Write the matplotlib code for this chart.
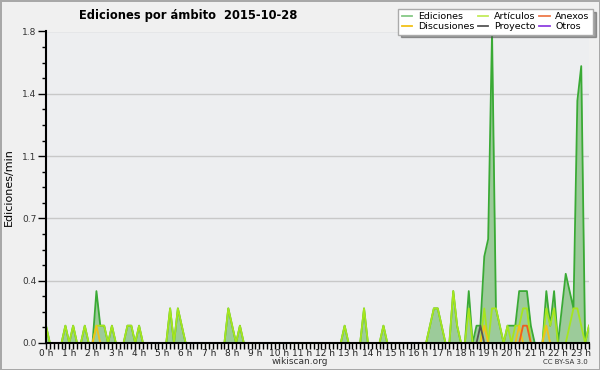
import numpy as np
import matplotlib
matplotlib.use("Agg")
import matplotlib.pyplot as plt
from matplotlib.ticker import MultipleLocator

# edits per minute, one value per 10-minute slot (0:00 .. 23:20)
ediciones = [
    0.1, 0, 0, 0, 0, 0.1, 0, 0.1, 0, 0,        # 0-9
    0.1, 0, 0, 0.3, 0.1, 0.1, 0, 0.1, 0, 0,    # 10-19
    0, 0.1, 0.1, 0, 0.1, 0, 0, 0, 0, 0,        # 20-29
    0, 0, 0.2, 0, 0.2, 0.1, 0, 0, 0, 0,        # 30-39
    0, 0, 0, 0, 0, 0, 0, 0.2, 0.1, 0,          # 40-49
    0.1, 0, 0, 0, 0, 0, 0, 0, 0, 0,            # 50-59
    0, 0, 0, 0, 0, 0, 0, 0, 0, 0,              # 60-69
    0, 0, 0, 0, 0, 0, 0, 0.1, 0, 0,            # 70-79
    0, 0, 0.2, 0, 0, 0, 0, 0.1, 0, 0,          # 80-89
    0, 0, 0, 0, 0, 0, 0, 0, 0, 0.1,            # 90-99
    0.2, 0.2, 0.1, 0, 0, 0.3, 0.1, 0, 0, 0.3,  # 100-109
    0, 0.1, 0.1, 0.5, 0.6, 1.8, 0.2, 0.1, 0, 0.1,  # 110-119
    0.1, 0.1, 0.3, 0.3, 0.3, 0.1, 0, 0, 0, 0.3,    # 120-129
    0.1, 0.3, 0, 0.2, 0.4, 0.3, 0.2, 1.4, 1.6, 0,  # 130-139
    0.1,                                           # 140
]
articulos = [
    0.1, 0, 0, 0, 0, 0.1, 0, 0.1, 0, 0,
    0.1, 0, 0, 0.1, 0.1, 0.1, 0, 0.1, 0, 0,
    0, 0.1, 0.1, 0, 0.1, 0, 0, 0, 0, 0,
    0, 0, 0.2, 0, 0.2, 0.1, 0, 0, 0, 0,
    0, 0, 0, 0, 0, 0, 0, 0.2, 0.1, 0,
    0.1, 0, 0, 0, 0, 0, 0, 0, 0, 0,
    0, 0, 0, 0, 0, 0, 0, 0, 0, 0,
    0, 0, 0, 0, 0, 0, 0, 0.1, 0, 0,
    0, 0, 0.2, 0, 0, 0, 0, 0.1, 0, 0,
    0, 0, 0, 0, 0, 0, 0, 0, 0, 0.1,
    0.2, 0.2, 0.1, 0, 0, 0.3, 0.1, 0, 0, 0.2,
    0, 0, 0, 0.2, 0, 0.2, 0.2, 0.1, 0, 0.1,
    0, 0.1, 0.1, 0.2, 0.2, 0, 0, 0, 0, 0.2,
    0.1, 0.2, 0, 0, 0, 0.1, 0.2, 0.2, 0.1, 0,
    0.1,
]
# sparse namespaces: slot index -> value
discusiones_pts = {13: 0.1, 113: 0.1, 122: 0.1, 129: 0.1}
proyecto_pts = {112: 0.1}
anexos_pts = {123: 0.1, 124: 0.1}
otros_pts = {}

hour_labels = [f"{h} h" for h in range(24)]
y_ticks = [0, 0.36, 0.72, 1.08, 1.44, 1.8]
y_labels = ["0.0", "0.4", "0.7", "1.1", "1.4", "1.8"]

n = len(ediciones)
hours = np.arange(n) / 6.0


def dense(pts):
    arr = np.zeros(n)
    for k, v in pts.items():
        arr[k] = v
    return arr


series = [
    ("Ediciones", np.array(ediciones), "#3aaa35", "#86c986"),
    ("Discusiones", dense(discusiones_pts), "#f2c218", "#f2c218"),
    ("Artículos", np.array(articulos), "#a6e61e", "#c3ec5a"),
    ("Proyecto", dense(proyecto_pts), "#555555", "#555555"),
    ("Anexos", dense(anexos_pts), "#ee5f1e", "#ee7a4a"),
    ("Otros", dense(otros_pts), "#8d3fe0", "#8d3fe0"),
]

fig = plt.figure(figsize=(6, 3.7), dpi=100)
fig.patch.set_facecolor("#f0f0f0")
fig.patch.set_edgecolor("#a8a8a8")
fig.patch.set_linewidth(2)

ax = fig.add_axes([46 / 600, 27 / 370, 543 / 600, 311.5 / 370])
ax.set_facecolor("#edeef0")

ax.fill_between(hours, 0, series[0][1], color="#9ccb9a", lw=0, zorder=2)
z = {"Ediciones": 3, "Artículos": 4, "Discusiones": 5, "Anexos": 6,
     "Proyecto": 7, "Otros": 8}
for name, vals, col, _ in series:
    ax.plot(hours, vals, color=col, lw=1.3, zorder=z[name])

ax.set_xlim(0, hours[-1])
ax.set_ylim(0, 1.8)
ax.set_xticks(range(24))
ax.set_xticklabels(hour_labels, fontsize=6.5, color="#222222")
ax.xaxis.set_minor_locator(MultipleLocator(1 / 6))
ax.set_yticks(y_ticks)
ax.set_yticklabels(y_labels, fontsize=6.5, color="#333333")
ax.yaxis.set_minor_locator(MultipleLocator(0.09))
ax.tick_params(axis="x", which="both", length=4, width=1, pad=0.5)
ax.tick_params(axis="y", which="major", length=6, width=1, pad=1)
ax.tick_params(axis="y", which="minor", length=3, width=1)
ax.grid(axis="y", color="#c8c8c8", lw=1)
ax.set_axisbelow(True)
for s in ("top", "right"):
    ax.spines[s].set_visible(False)
for s in ("left", "bottom"):
    ax.spines[s].set_linewidth(1.5)
    ax.spines[s].set_zorder(10)

ax.set_ylabel("Ediciones/min", fontsize=8, labelpad=6)
fig.text(188 / 600, 1 - 15 / 370, "Ediciones por ámbito  2015-10-28",
         ha="center", va="center", fontsize=8.3, fontweight="bold")
fig.text(300 / 600, 1 - 362 / 370, "wikiscan.org", ha="center", va="center",
         fontsize=6.5, color="#333333")
fig.text(588 / 600, 1 - 362 / 370, "CC BY-SA 3.0", ha="right", va="center",
         fontsize=5, color="#333333")

handles = [plt.Line2D([], [], color=lc, lw=1.3) for _, _, _, lc in series]
labels = [s[0] for s in series]
leg = fig.legend(handles, labels, ncol=3, loc="upper right",
                 bbox_to_anchor=(593 / 600, 1 - 9 / 370), fontsize=6.8,
                 frameon=True, fancybox=False, shadow=True, handlelength=1.1,
                 handletextpad=0.6, columnspacing=0.4, labelspacing=0.1,
                 borderpad=0.35, borderaxespad=0)
leg.get_frame().set_edgecolor("#aaaaaa")
leg.get_frame().set_facecolor("white")

fig.savefig("out.png", dpi=100, facecolor=fig.get_facecolor(),
            edgecolor=fig.get_edgecolor())
